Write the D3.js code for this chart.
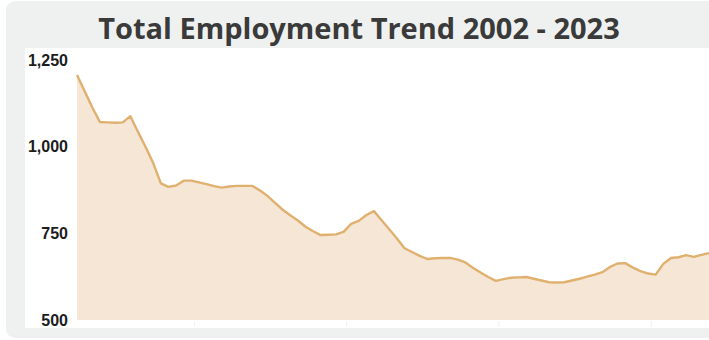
<!DOCTYPE html>
<html>
<head>
<meta charset="utf-8">
<script src="https://cdn.jsdelivr.net/npm/d3@7"></script>
<style>
  html, body { margin: 0; padding: 0; background: #ffffff; }
  svg { display: block; }
</style>
</head>
<body>
<svg id="chart" width="709" height="340"></svg>
<script>
// Total employment (thousands), quarterly, Q1 2002 – Q4 2022
const employment = [
  1207, 1160, 1113, 1071, 1070, 1069, 1070, 1088, 1043, 999,
  952, 894, 884, 888, 902, 902, 897, 892, 886, 882,
  885, 887, 887, 887, 874, 858, 838, 818, 802, 787,
  769, 756, 745, 746, 747, 754, 777, 786, 803, 814,
  788, 762, 735, 707, 696, 685, 676, 678, 679, 679,
  674, 666, 651, 637, 624, 613, 618, 622, 623, 624,
  619, 614, 609, 608, 609, 614, 619, 625, 631, 638,
  653, 663, 664, 651, 641, 634, 631, 662, 679, 681,
  687, 682, 688, 693
];
// Quarter-end months, one per value
const quarters = d3.timeMonth.range(new Date(2002, 2, 1), new Date(2023, 0, 1), 3);
const yTicks = [500, 750, 1000, 1250];
const xTickYears = [2006, 2011, 2016, 2021];
const titleText = "Total Employment Trend 2002 - 2023";

const data = quarters.map((d, i) => ({ date: d, value: employment[i] }));

const svg = d3.select("#chart");

// card background
svg.append("rect")
  .attr("x", 6).attr("y", 1)
  .attr("width", 720).attr("height", 337)
  .attr("rx", 9).attr("ry", 9)
  .attr("fill", "#eff1f0");

// plot panel
svg.append("rect")
  .attr("x", 25).attr("y", 48)
  .attr("width", 684).attr("height", 280)
  .attr("fill", "#ffffff");

svg.append("text")
  .attr("x", 359).attr("y", 39)
  .attr("text-anchor", "middle")
  .attr("font-family", "'Open Sans', sans-serif")
  .attr("font-weight", 700)
  .attr("font-size", 29)
  .attr("fill", "#3a3a3a")
  .text(titleText);

const x = d3.scaleTime()
  .domain([quarters[0], quarters[quarters.length - 1]])
  .range([77, 709]);
const y = d3.scaleLinear().domain([500, 1250]).range([320, 60]);

const area = d3.area()
  .x(d => x(d.date))
  .y0(y(500))
  .y1(d => y(d.value));
const line = d3.line()
  .x(d => x(d.date))
  .y(d => y(d.value));

svg.append("path")
  .datum(data)
  .attr("d", area)
  .attr("fill", "#f5e6d5");

svg.append("path")
  .datum(data)
  .attr("d", line)
  .attr("fill", "none")
  .attr("stroke", "#e0b06f")
  .attr("stroke-width", 2.4)
  .attr("stroke-linejoin", "round");

// y axis
const yAxis = svg.append("g")
  .attr("transform", "translate(70,0)")
  .call(d3.axisLeft(y).tickValues(yTicks).tickSize(0).tickPadding(2).tickFormat(d3.format(",")));
yAxis.select(".domain").remove();
yAxis.selectAll("text")
  .attr("font-family", "'Liberation Sans', Arial, sans-serif")
  .attr("font-weight", 700)
  .attr("font-size", 16)
  .attr("fill", "#1c1c1c");

// faint year ticks under the area
const xAxis = svg.append("g")
  .attr("transform", "translate(0,321)")
  .call(d3.axisBottom(x)
    .tickValues(xTickYears.map(yr => new Date(yr, 0, 1)))
    .tickSize(6)
    .tickFormat(""));
xAxis.select(".domain").remove();
xAxis.selectAll("line").attr("stroke", "#f1f1f1");
</script>
</body>
</html>
